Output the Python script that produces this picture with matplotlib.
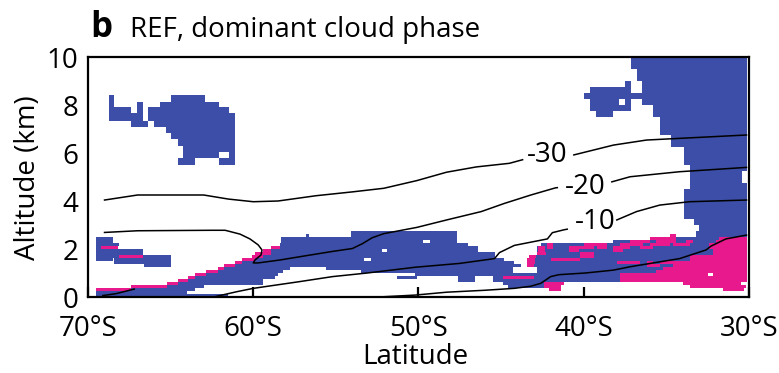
import numpy as np
import matplotlib
matplotlib.use("Agg")
import matplotlib.pyplot as plt
from matplotlib.colors import ListedColormap

plt.rcParams['font.family'] = ['Open Sans', 'DejaVu Sans']

# ---------------------------------------------------------------------------
# Dominant cloud phase, stored as runs of grid cells:
# (altitude bottom km, altitude top km, [(west lat, east lat), ...])
# latitude in degrees north (negative = south)
# ---------------------------------------------------------------------------
ice_runs = [
    # boundary-layer / low cloud band
    (0.000, 0.125, [(-69.5, -61.5)]),
    (0.125, 0.250, [(-69.5, -64.0)]),
    (0.250, 0.375, [(-67.4, -63.5)]),
    (0.375, 0.500, [(-65.2, -63.0), (-44.6, -42.4)]),
    (0.500, 0.625, [(-64.55, -59.4), (-44.9, -42.4)]),
    (0.625, 0.750, [(-63.95, -59.4), (-47.6, -46.6), (-45.5, -37.8)]),
    (0.750, 0.875, [(-63.55, -58.7), (-51.3, -50.1), (-47.6, -46.6), (-45.5, -37.8)]),
    (0.875, 1.000, [(-62.85, -58.5), (-50.2, -37.8)]),
    (1.000, 1.125, [(-62.13, -58.2), (-53.5, -44.3), (-42.8, -30.15)]),
    (1.125, 1.250, [(-61.73, -57.8), (-55.6, -44.3), (-42.8, -30.15)]),
    (1.250, 1.375, [(-61.1, -43.8), (-43.45, -30.15)]),
    (1.375, 1.500, [(-61.0, -44.2), (-43.4, -30.15)]),
    (1.500, 1.625, [(-60.0, -53.3), (-52.9, -44.8), (-43.4, -30.15)]),
    (1.625, 1.750, [(-59.5, -45.4), (-43.2, -30.15)]),
    (1.750, 1.875, [(-58.9, -45.4), (-42.8, -30.15)]),
    (1.875, 2.000, [(-58.9, -52.2), (-51.9, -46.4), (-42.8, -30.15)]),
    (2.000, 2.125, [(-58.4, -46.4), (-42.8, -30.15)]),
    (2.125, 2.250, [(-58.4, -47.0), (-42.6, -30.15)]),
    (2.250, 2.375, [(-58.3, -49.7), (-49.3, -47.7), (-38.2, -30.15)]),
    (2.375, 2.500, [(-58.3, -47.7), (-34.4, -30.15)]),
    (2.500, 2.625, [(-56.8, -56.6), (-54.1, -47.7), (-33.2, -30.15)]),
    (2.625, 2.750, [(-54.1, -47.7), (-33.2, -30.15)]),
    (2.750, 3.000, [(-33.0, -30.15)]),
    # low cloud near the Antarctic coast
    (2.375, 2.500, [(-69.5, -68.5)]),
    (2.250, 2.375, [(-69.5, -68.5)]),
    (2.125, 2.250, [(-69.5, -68.1)]),
    (2.000, 2.125, [(-69.5, -68.2)]),
    (1.750, 2.000, [(-69.5, -66.65)]),
    (1.625, 1.750, [(-69.5, -65.0)]),
    (1.500, 1.625, [(-69.5, -68.5), (-68.4, -65.0)]),
    (1.375, 1.500, [(-68.4, -65.0)]),
    (1.250, 1.375, [(-66.6, -65.0)]),
    # upper-level cloud, high latitudes
    (8.14, 8.40, [(-68.75, -68.43), (-64.94, -62.88)]),
    (7.90, 8.14, [(-68.75, -68.43), (-67.06, -66.7), (-65.64, -62.11)]),
    (7.65, 7.90, [(-68.75, -67.4), (-67.06, -66.7), (-66.33, -61.47)]),
    (7.33, 7.65, [(-68.75, -66.7), (-66.33, -61.1)]),
    (7.08, 7.33, [(-67.42, -66.33), (-66.0, -61.1)]),
    (6.83, 7.08, [(-65.28, -61.1)]),
    (6.58, 6.83, [(-64.94, -61.1)]),
    (6.30, 6.58, [(-64.54, -61.1)]),
    (6.06, 6.30, [(-64.23, -61.1)]),
    (5.80, 6.06, [(-64.23, -62.11), (-61.47, -61.1)]),
    (5.50, 5.80, [(-64.54, -63.57), (-62.11, -61.1)]),
    # deep cloud, subtropical edge
    (9.50, 9.95, [(-37.16, -30.15)]),
    (9.00, 9.50, [(-36.8, -30.15)]),
    (8.75, 9.00, [(-37.5, -37.16), (-36.5, -30.15)]),
    (8.50, 8.75, [(-39.6, -37.16), (-36.5, -30.15)]),
    (8.25, 8.50, [(-40.0, -30.15)]),
    (8.00, 8.25, [(-39.6, -37.85), (-37.5, -37.16), (-36.5, -30.15)]),
    (7.75, 8.00, [(-39.6, -37.16), (-35.8, -30.15)]),
    (7.50, 7.75, [(-39.26, -38.23), (-35.8, -30.15)]),
    (6.75, 7.50, [(-35.4, -30.15)]),
    (6.25, 6.75, [(-34.7, -30.15)]),
    (5.50, 6.25, [(-33.97, -30.15)]),
    (5.25, 5.50, [(-33.6, -30.15)]),
    (4.75, 5.25, [(-33.6, -30.45)]),
    (4.50, 4.75, [(-33.57, -30.15)]),
    (3.25, 4.50, [(-33.97, -30.15)]),
    (3.00, 3.25, [(-33.3, -30.15)]),
]

liquid_runs = [
    (0.250, 0.375, [(-69.5, -67.4), (-42.1, -41.4), (-31.6, -30.3)]),
    (0.375, 0.500, [(-67.4, -65.2), (-42.4, -41.4), (-33.6, -30.2)]),
    (0.500, 0.625, [(-65.2, -64.55), (-42.4, -41.2), (-34.0, -30.5)]),
    (0.625, 0.750, [(-64.55, -63.95), (-37.8, -30.15)]),
    (0.750, 0.875, [(-63.95, -63.55), (-44.9, -43.0), (-37.8, -30.15)]),
    (0.875, 1.000, [(-63.55, -62.85), (-37.8, -32.5), (-32.2, -30.15)]),
    (1.000, 1.125, [(-62.85, -62.13), (-35.6, -30.15)]),
    (1.125, 1.250, [(-62.13, -61.73), (-35.2, -30.15)]),
    (1.250, 1.375, [(-61.73, -61.1), (-43.45, -43.0), (-36.2, -35.4), (-34.6, -30.15)]),
    (1.375, 1.500, [(-61.1, -60.7), (-43.45, -42.95), (-38.0, -36.6), (-36.2, -35.8),
                    (-35.4, -30.15)]),
    (1.500, 1.625, [(-60.7, -59.9), (-43.45, -42.95), (-42.0, -40.2), (-33.6, -30.15)]),
    (1.625, 1.750, [(-60.1, -59.4), (-43.3, -42.9), (-40.2, -39.4), (-33.6, -30.15)]),
    (1.750, 1.875, [(-59.9, -58.9), (-42.8, -42.3), (-40.2, -39.4), (-32.2, -30.15)]),
    (1.875, 2.000, [(-59.4, -58.9), (-42.75, -42.35), (-40.9, -40.3), (-38.2, -37.6),
                    (-32.2, -30.15)]),
    (2.000, 2.125, [(-58.9, -58.4), (-42.75, -42.35), (-42.25, -41.84), (-40.9, -39.4),
                    (-39.2, -38.6), (-38.2, -37.2), (-36.6, -35.8), (-32.4, -30.15)]),
    (2.125, 2.250, [(-42.25, -41.84), (-40.0, -38.6), (-37.8, -36.4), (-36.0, -34.8),
                    (-34.6, -33.6), (-32.4, -30.15)]),
    (2.250, 2.375, [(-37.2, -36.0), (-35.6, -34.4), (-33.8, -33.4), (-32.0, -30.15)]),
    (2.375, 2.500, [(-36.0, -34.4), (-31.8, -30.15)]),
    (2.500, 2.625, [(-34.8, -34.4)]),
    # coastal low cloud
    (2.000, 2.125, [(-69.2, -68.2)]),
    (1.625, 1.750, [(-68.1, -66.65)]),
]

# Isotherms (deg C): latitude / altitude (km) along each line
iso_m30_lat = [-69.0, -67.0, -63.0, -61.5, -60.0, -58.5, -56.2, -54.0, -52.1, -50.1,
               -48.3, -46.5, -44.5, -43.7, -42.3, -40.6, -38.2, -36.2, -34.2, -30.15]
iso_m30_alt = [4.04, 4.25, 4.25, 4.08, 3.97, 4.00, 4.22, 4.38, 4.53, 4.85,
               5.20, 5.42, 5.57, 5.72, 5.85, 5.92, 6.33, 6.54, 6.61, 6.75]

iso_m20_lat = [-69.0, -67.0, -62.5, -61.7, -60.8, -60.2, -59.7, -59.47, -59.53, -59.9,
               -60.0, -59.7, -58.4, -56.9, -55.2, -54.0, -53.4, -52.8, -52.1, -50.1,
               -48.3, -46.2, -44.8, -43.2, -41.7, -38.6, -37.2, -34.2, -30.15]
iso_m20_alt = [2.69, 2.76, 2.78, 2.78, 2.62, 2.42, 2.17, 1.96, 1.75, 1.54,
               1.42, 1.42, 1.54, 1.71, 1.90, 2.02, 2.22, 2.47, 2.64, 2.90,
               3.21, 3.56, 3.90, 4.25, 4.55, 4.74, 5.01, 5.22, 5.40]

iso_m10_lat = [-62.4, -61.0, -60.0, -57.2, -55.2, -53.1, -50.2, -47.5, -45.4, -45.1,
               -44.2, -42.2, -41.9, -41.2, -38.0, -36.8, -35.4, -33.6, -30.15]
iso_m10_alt = [0.00, 0.22, 0.36, 0.64, 0.85, 1.00, 1.24, 1.40, 1.60, 1.85,
               2.15, 2.42, 2.68, 2.80, 3.21, 3.56, 3.83, 3.97, 4.04]
iso_m10_coast_lat = [-69.1, -68.3, -67.2]
iso_m10_coast_alt = [0.06, 0.14, 0.33]

iso_0_lat = [-52.4, -50.2, -48.3, -46.0, -44.2, -43.2, -42.6, -42.0, -41.5, -39.9,
             -38.2, -37.2, -34.2, -32.6, -32.3, -31.4, -30.15]
iso_0_alt = [0.00, 0.08, 0.20, 0.28, 0.36, 0.45, 0.57, 0.85, 0.93, 1.00,
             1.12, 1.26, 1.60, 1.96, 2.12, 2.42, 2.58]

# contour label text
iso_labels = ['-30', '-20', '-10']

lat_ticks = [-70, -60, -50, -40, -30]
lat_tick_labels = ['70°S', '60°S', '50°S', '40°S', '30°S']
alt_ticks = [0, 2, 4, 6, 8, 10]

ICE_COLOR = '#3c4ea7'
LIQ_COLOR = '#e8198c'

# ---------------------------------------------------------------------------
# rasterise the runs onto a fine lat/alt grid
lat_edges = np.linspace(-70, -30, 801)
alt_edges = np.linspace(0, 10, 1001)
lat_c = 0.5 * (lat_edges[:-1] + lat_edges[1:])
alt_c = 0.5 * (alt_edges[:-1] + alt_edges[1:])
phase = np.zeros((alt_c.size, lat_c.size), dtype=int)


def paint(rows, code):
    for a0, a1, runs in rows:
        rsel = (alt_c >= a0) & (alt_c < a1)
        for w, e in runs:
            csel = (lat_c >= w) & (lat_c < e)
            phase[np.ix_(rsel, csel)] = code


paint(ice_runs, 1)
paint(liquid_runs, 2)
phase_m = np.ma.masked_equal(phase, 0)

fig = plt.figure(figsize=(7.79, 3.73), dpi=100)
ax = fig.add_axes([88 / 779, 1 - 297 / 373, 661 / 779, 240 / 373])

ax.imshow(phase_m, cmap=ListedColormap([ICE_COLOR, LIQ_COLOR]), vmin=1, vmax=2,
          extent=(-70, -30, 0, 10), origin='lower', aspect='auto',
          interpolation='nearest', zorder=1)


def draw_iso(lats, alts, label=None, gap=None, pos=None):
    lats = np.asarray(lats, float)
    alts = np.asarray(alts, float)
    if gap is None:
        ax.plot(lats, alts, color='black', lw=1.1, zorder=3)
        return
    g0, g1 = gap
    west = lats <= g0
    east = lats >= g1
    a_g0 = np.interp(g0, lats, alts)
    a_g1 = np.interp(g1, lats, alts)
    ax.plot(np.r_[lats[west], g0], np.r_[alts[west], a_g0], color='black', lw=1.1, zorder=3)
    ax.plot(np.r_[g1, lats[east]], np.r_[a_g1, alts[east]], color='black', lw=1.1, zorder=3)
    ax.text(pos[0], pos[1], label, ha='center', va='center', fontsize=20, zorder=4)


draw_iso(iso_m30_lat, iso_m30_alt, iso_labels[0], (-43.7, -40.6), (-42.2, 5.9))
draw_iso(iso_m20_lat, iso_m20_alt, iso_labels[1], (-41.6, -38.3), (-39.9, 4.6))
draw_iso(iso_m10_lat, iso_m10_alt, iso_labels[2], (-41.0, -38.0), (-39.3, 3.12))
draw_iso(iso_m10_coast_lat, iso_m10_coast_alt)
draw_iso(iso_0_lat, iso_0_alt)

ax.set_xlim(-70, -30)
ax.set_ylim(0, 10)
ax.set_xticks(lat_ticks)
ax.set_xticklabels(lat_tick_labels)
ax.set_yticks(alt_ticks)
ax.tick_params(axis='x', direction='in', length=7, width=1.6, labelsize=20, pad=13)
ax.tick_params(axis='y', length=0, labelsize=20, pad=7)
for s in ax.spines.values():
    s.set_linewidth(1.6)
    s.set_zorder(5)

fig.text(0.036, 0.525, 'Altitude (km)', rotation=90, ha='center', va='center', fontsize=20)
fig.text(415 / 779, 1 - 364 / 373, 'Latitude', ha='center', va='baseline', fontsize=20)
fig.text(90 / 779, 1 - 37 / 373, 'b', ha='left', va='baseline', fontsize=25,
         fontweight='bold')
fig.text(130 / 779, 1 - 37 / 373, 'REF, dominant cloud phase', ha='left', va='baseline',
         fontsize=20)

fig.savefig('out.png', dpi=100)
